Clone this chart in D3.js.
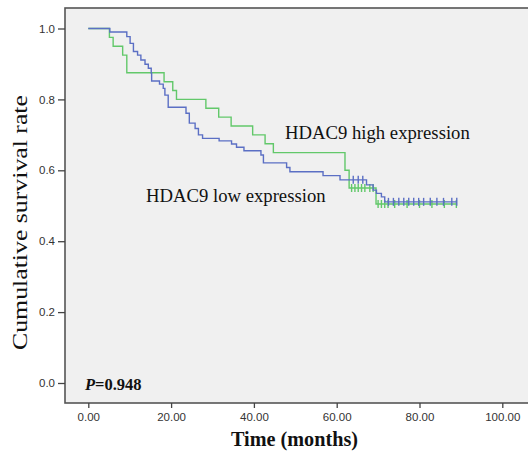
<!DOCTYPE html>
<html>
<head>
<meta charset="utf-8">
<script src="https://cdn.jsdelivr.net/npm/d3@7"></script>
<style>
  body { margin: 0; background: #fff; }
  svg text { fill: #111; }
</style>
</head>
<body>
<div class="canvas"></div>
<script>
// Data
const highTimes = [0, 5.1, 6.0, 8.3, 9.3, 18.3, 20.4, 21.3, 28.4, 31.5, 34.5, 39.7, 42.7, 44.7, 62.0, 63.0, 69.5, 88.9];
const highSurv  = [1, 0.975, 0.95, 0.925, 0.875, 0.85, 0.825, 0.80, 0.775, 0.75, 0.725, 0.70, 0.675, 0.65, 0.60, 0.55, 0.505, 0.505];
const highCensored = [63.6, 64.4, 65.2, 66.0, 66.8, 68.0, 68.8, 70.0, 70.8, 71.6, 72.4, 74.0, 77.0, 80.0, 83.0, 86.0, 88.9];

const lowTimes = [0, 5.2, 9.3, 10.1, 10.9, 11.9, 12.7, 13.7, 14.5, 15.2, 15.3, 17.2, 18.1, 18.5, 19.3, 23.6, 24.4, 25.8, 26.6, 27.6,
                  31.6, 34.6, 35.8, 37.6, 41.7, 42.3, 47.9, 48.7, 56.7, 60.8, 67.2, 68.8, 69.6, 70.8, 71.6, 89.0];
const lowSurv  = [1, 0.99, 0.977, 0.958, 0.935, 0.925, 0.911, 0.899, 0.888, 0.874, 0.852, 0.843, 0.831, 0.812, 0.778, 0.761, 0.733, 0.718, 0.70, 0.69,
                  0.683, 0.674, 0.665, 0.655, 0.643, 0.621, 0.608, 0.596, 0.585, 0.573, 0.559, 0.544, 0.535, 0.525, 0.511, 0.511];
const lowCensored = [64.0, 65.2, 66.3, 72.5, 73.7, 75.0, 76.2, 77.4, 78.6, 79.8, 81.0, 82.6, 84.2, 85.8, 87.8, 89.0];

const xTicks = [0, 20, 40, 60, 80, 100];
const yTicks = [0, 0.2, 0.4, 0.6, 0.8, 1.0];

// Graph set up
const svgWidth = 528;
const svgHeight = 452;
const frame = {left: 65, top: 8, bottom: 403, right: 540};

const svg = d3.select('.canvas')
    .append('svg')
    .attr('width', svgWidth)
    .attr('height', svgHeight);

// Scales
const x = d3.scaleLinear().domain([0, 100]).range([88.3, 502.3]);
const y = d3.scaleLinear().domain([0, 1]).range([383, 28.5]);

// plot background + frame
svg.append('rect')
    .attr('x', frame.left)
    .attr('y', frame.top)
    .attr('width', frame.right - frame.left)
    .attr('height', frame.bottom - frame.top)
    .attr('fill', '#f0f0f0')
    .attr('stroke', '#555')
    .attr('stroke-width', 1.6);

// Axes
const xAxis = d3.axisBottom(x)
    .tickValues(xTicks)
    .tickSize(5)
    .tickPadding(5)
    .tickFormat(d3.format('.2f'));

const yAxis = d3.axisLeft(y)
    .tickValues(yTicks)
    .tickSize(7)
    .tickPadding(3)
    .tickFormat(d3.format('.1f'));

const xAxisGroup = svg.append('g')
    .attr('transform', `translate(0,${frame.bottom})`)
    .call(xAxis);

const yAxisGroup = svg.append('g')
    .attr('transform', `translate(${frame.left},0)`)
    .call(yAxis);

[xAxisGroup, yAxisGroup].forEach(g => {
    g.select('.domain').remove();
    g.selectAll('line').attr('stroke', '#444').attr('stroke-width', 1.3);
    g.selectAll('text')
        .attr('font-family', 'Liberation Sans, Arial, sans-serif')
        .attr('font-size', 11.5)
        .style('fill', '#333');
});

// Survival curves
const line = d3.line()
    .x(d => x(d[0]))
    .y(d => y(d[1]))
    .curve(d3.curveStepAfter);

const survAt = (times, surv, t) => {
    let s = surv[0];
    times.forEach((tt, i) => { if (tt <= t) s = surv[i]; });
    return s;
};

const groups = [
    {times: highTimes, surv: highSurv, cens: highCensored, color: '#62c86a'},
    {times: lowTimes, surv: lowSurv, cens: lowCensored, color: '#5b6fc4'}
];

groups.forEach(g => {
    const pts = g.times.map((t, i) => [t, g.surv[i]]);
    svg.append('path')
        .datum(pts)
        .attr('fill', 'none')
        .attr('stroke', g.color)
        .attr('stroke-width', 1.4)
        .attr('d', line);

    svg.append('g')
        .selectAll('line')
        .data(g.cens)
        .enter()
        .append('line')
            .attr('x1', d => x(d))
            .attr('x2', d => x(d))
            .attr('y1', d => y(survAt(g.times, g.surv, d)) - 4)
            .attr('y2', d => y(survAt(g.times, g.surv, d)) + 4)
            .attr('stroke', g.color)
            .attr('stroke-width', 1.4);
});

// Labels
const serif = 'Liberation Serif, Times New Roman, serif';

svg.append('text')
    .attr('x', 285)
    .attr('y', 139)
    .attr('font-family', serif)
    .attr('font-size', 18.7)
    .text('HDAC9 high expression');

svg.append('text')
    .attr('x', 146)
    .attr('y', 201.5)
    .attr('font-family', serif)
    .attr('font-size', 18.7)
    .text('HDAC9 low expression');

const pText = svg.append('text')
    .attr('x', 85)
    .attr('y', 390)
    .attr('font-family', serif)
    .attr('font-size', 16.5)
    .attr('font-weight', 'bold');
pText.append('tspan').attr('font-style', 'italic').text('P');
pText.append('tspan').text('=0.948');

svg.append('text')
    .attr('x', 231)
    .attr('y', 446)
    .attr('font-family', serif)
    .attr('font-size', 20)
    .attr('font-weight', 'bold')
    .attr('textLength', 127)
    .attr('lengthAdjust', 'spacingAndGlyphs')
    .text('Time (months)');

svg.append('text')
    .attr('transform', 'translate(27,350) rotate(-90)')
    .attr('font-family', serif)
    .attr('font-size', 20)
    .attr('textLength', 255)
    .attr('lengthAdjust', 'spacingAndGlyphs')
    .text('Cumulative survival rate');
</script>
</body>
</html>
